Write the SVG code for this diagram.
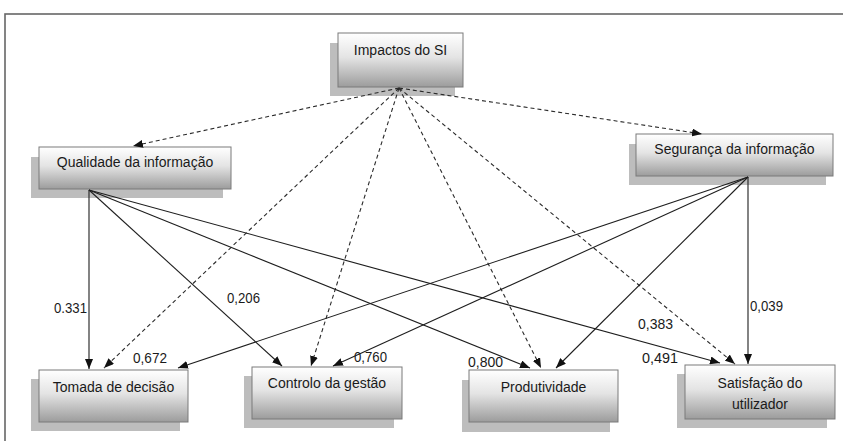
<svg xmlns="http://www.w3.org/2000/svg" width="843" height="441" viewBox="0 0 843 441">
  <defs>
    <linearGradient id="boxFill" x1="0" y1="0" x2="0" y2="1">
      <stop offset="0" stop-color="#ffffff"/>
      <stop offset="0.45" stop-color="#e4e4e4"/>
      <stop offset="1" stop-color="#9c9c9c"/>
    </linearGradient>
    <marker id="arrow" viewBox="0 0 10 8" refX="10" refY="4" markerWidth="10" markerHeight="8" markerUnits="userSpaceOnUse" orient="auto">
      <path d="M0,0 L10,4 L0,8 z" fill="#111"/>
    </marker>
  </defs>
  <style>
    .frame { fill: #ffffff; stroke: #666666; stroke-width: 1.6; }
    .shadow { fill: #bdbdbd; }
    .box { fill: url(#boxFill); stroke: #7a7a7a; stroke-width: 1; }
    .label { font-family: "Liberation Sans", Arial, sans-serif; font-size: 14px; fill: #1a1a1a; text-anchor: middle; }
    .coef { font-family: "Liberation Sans", Arial, sans-serif; font-size: 15px; fill: #1a1a1a; }
    .dash { fill: none; stroke: #2a2a2a; stroke-width: 1.1; stroke-dasharray: 4 3; marker-end: url(#arrow); }
    .solid { fill: none; stroke: #1e1e1e; stroke-width: 1.1; marker-end: url(#arrow); }
  </style>

  <rect width="843" height="441" fill="#ffffff"/>
  <rect class="frame" x="5" y="14" width="850" height="450"/>

  <!-- nodes -->
  <g id="impactos">
    <rect class="shadow" x="330" y="43" width="125" height="53"/>
    <rect class="box" x="338" y="33" width="125" height="54"/>
    <text class="label" x="400.5" y="55">Impactos do SI</text>
  </g>
  <g id="qualidade">
    <rect class="shadow" x="31" y="157" width="192" height="41"/>
    <rect class="box" x="39" y="147" width="192" height="42"/>
    <text class="label" x="135" y="167">Qualidade da informação</text>
  </g>
  <g id="seguranca">
    <rect class="shadow" x="629" y="144" width="197" height="41"/>
    <rect class="box" x="636" y="134" width="197" height="42"/>
    <text class="label" x="734.5" y="154">Segurança da informação</text>
  </g>
  <g id="tomada">
    <rect class="shadow" x="31" y="379" width="149" height="52"/>
    <rect class="box" x="39" y="370" width="149" height="52"/>
    <text class="label" x="113.5" y="392">Tomada de decisão</text>
  </g>
  <g id="controlo">
    <rect class="shadow" x="244" y="376" width="150" height="52"/>
    <rect class="box" x="252" y="367" width="150" height="52"/>
    <text class="label" x="327" y="388">Controlo da gestão</text>
  </g>
  <g id="produtividade">
    <rect class="shadow" x="462" y="380" width="148" height="52"/>
    <rect class="box" x="469" y="370" width="149" height="52"/>
    <text class="label" x="543.5" y="392">Produtividade</text>
  </g>
  <g id="satisfacao">
    <rect class="shadow" x="677" y="374" width="150" height="54"/>
    <rect class="box" x="685" y="365" width="150" height="54"/>
    <text class="label" x="760" y="388">Satisfação do</text>
    <text class="label" x="760" y="409">utilizador</text>
  </g>

  <!-- connectors -->
  <g id="connectors">
    <!-- dashed links from Impactos do SI -->
    <line class="dash" x1="399" y1="88" x2="133" y2="146"/>
    <line class="dash" x1="399" y1="88" x2="702" y2="134"/>
    <line class="dash" x1="399" y1="88" x2="104" y2="368"/>
    <line class="dash" x1="399" y1="88" x2="311" y2="366"/>
    <line class="dash" x1="399" y1="88" x2="541" y2="368"/>
    <line class="dash" x1="399" y1="88" x2="735" y2="364"/>
    <!-- solid links from Qualidade da informação -->
    <line class="solid" x1="89" y1="190" x2="89" y2="369"/>
    <line class="solid" x1="89" y1="190" x2="282" y2="366"/>
    <line class="solid" x1="89" y1="190" x2="530" y2="368"/>
    <line class="solid" x1="89" y1="190" x2="720" y2="363"/>
    <!-- solid links from Segurança da informação -->
    <line class="solid" x1="748" y1="177" x2="748" y2="364"/>
    <line class="solid" x1="748" y1="177" x2="178" y2="368"/>
    <line class="solid" x1="748" y1="177" x2="333" y2="366"/>
    <line class="solid" x1="748" y1="177" x2="556" y2="368"/>
  </g>

  <!-- path coefficients -->
  <g id="coefficients">
    <text class="coef" x="54" y="313" textLength="33" lengthAdjust="spacingAndGlyphs">0.331</text>
    <text class="coef" x="227" y="303" textLength="33" lengthAdjust="spacingAndGlyphs">0,206</text>
    <text class="coef" x="133" y="363" textLength="34" lengthAdjust="spacingAndGlyphs">0,672</text>
    <text class="coef" x="354" y="362" textLength="33" lengthAdjust="spacingAndGlyphs">0,760</text>
    <text class="coef" x="468" y="367" textLength="35" lengthAdjust="spacingAndGlyphs">0,800</text>
    <text class="coef" x="642" y="363" textLength="36" lengthAdjust="spacingAndGlyphs">0,491</text>
    <text class="coef" x="638" y="329" textLength="35" lengthAdjust="spacingAndGlyphs">0,383</text>
    <text class="coef" x="750" y="311" textLength="33" lengthAdjust="spacingAndGlyphs">0,039</text>
  </g>
</svg>
